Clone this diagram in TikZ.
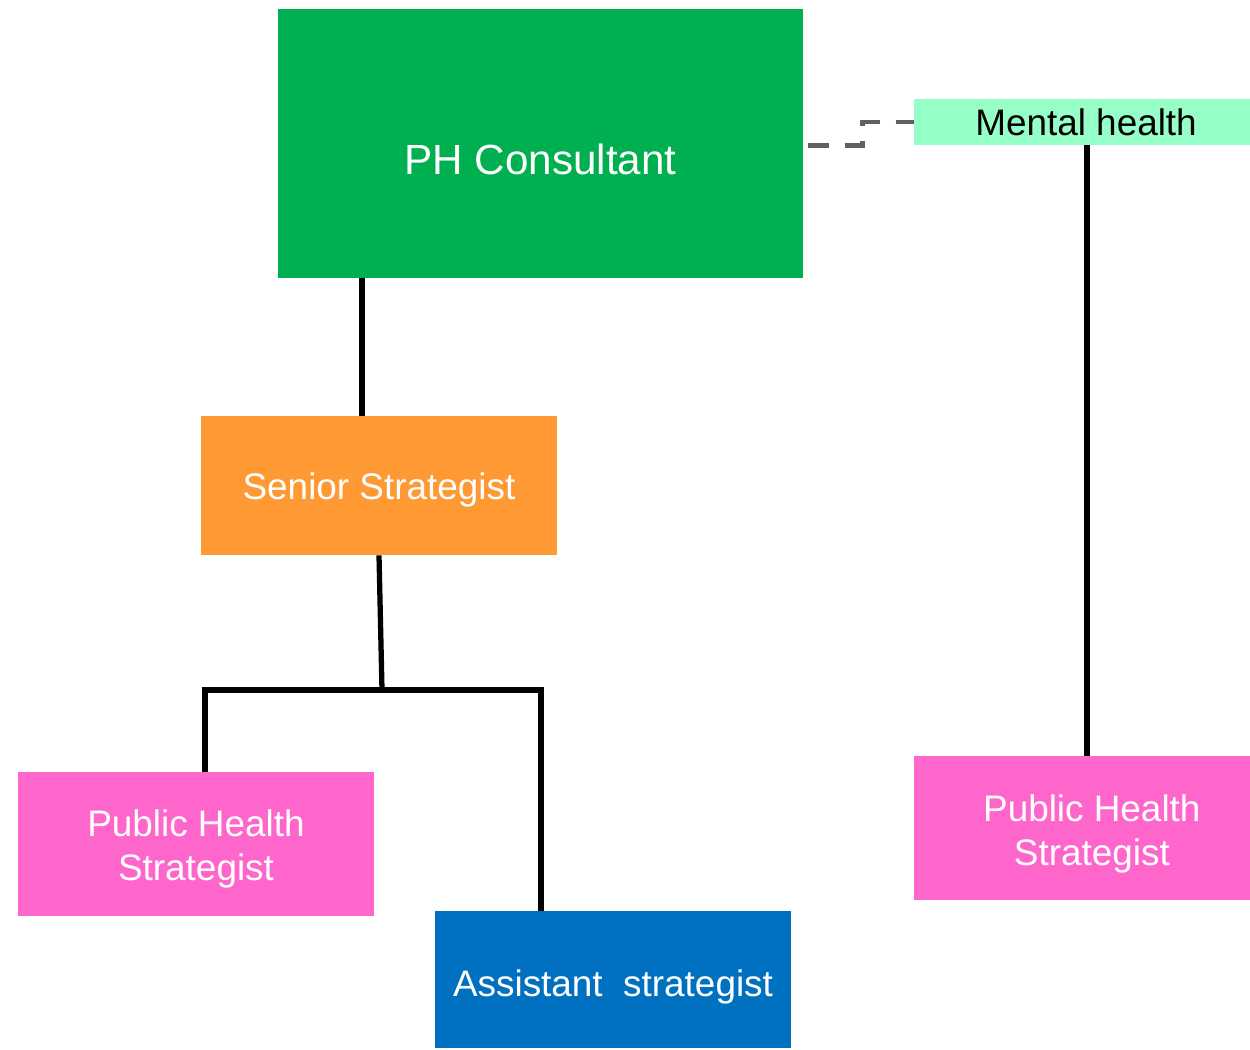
\documentclass[tikz,border=0pt]{standalone}
\usepackage{fontspec}
\setmainfont{Liberation Sans}
\usetikzlibrary{calc}

\definecolor{consgreen}{RGB}{0,176,80}
\definecolor{mhgreen}{RGB}{150,255,200}
\definecolor{seniororange}{RGB}{255,153,51}
\definecolor{phspink}{RGB}{255,102,204}
\definecolor{assistblue}{RGB}{0,112,192}
\definecolor{dashgray}{RGB}{96,96,96}

\begin{document}
\begin{tikzpicture}[x=0.02cm, y=-0.02cm,
    box/.style={inner sep=0pt},
    role/.style={inner sep=0pt, align=center, font=\fontsize{21}{25.5}\selectfont, text=white},
    link/.style={line width=3pt, black},
    dotted link/.style={line width=2.8pt, dashgray, dash pattern=on 12pt off 9pt}]
      \useasboundingbox (0,0) rectangle (1250,1049);

      \node[box, fill=consgreen, minimum width=10.5cm, minimum height=5.38cm,
        label={[role, font=\fontsize{24}{28}\selectfont, yshift=-9pt]center:PH Consultant}] (cons) at (540.5,143.5) {};
      \node[box, fill=mhgreen, minimum width=6.72cm, minimum height=0.92cm,
        label={[role, text=black, xshift=2.3pt]center:Mental health}] (mental) at (1082,122) {};
      \node[box, fill=seniororange, minimum width=7.12cm, minimum height=2.78cm,
        label={[role, yshift=-2.8pt]center:Senior Strategist}] (senior) at (379,485.5) {};
      \node[box, fill=phspink, minimum width=7.12cm, minimum height=2.88cm,
        label={[role, yshift=-2.8pt]center:{Public Health\\Strategist}}] (phsL) at (196,844) {};
      \node[box, fill=assistblue, minimum width=7.12cm, minimum height=2.74cm,
        label={[role, yshift=-4.5pt]center:{Assistant\ \ strategist}}] (assist) at (613,979.5) {};
      \node[box, fill=phspink, minimum width=6.72cm, minimum height=2.88cm,
        label={[role, xshift=5.6pt, yshift=-3.4pt]center:{Public Health\\Strategist}}] (phsR) at (1082,828) {};

      \coordinate (split) at (382,690);
      \coordinate (jl) at (205,690);
      \coordinate (jr) at (541,690);

      \draw[link] (cons.south -| 362,0) -- (senior.north -| 362,0);
      \draw[link] (senior.south) -- (split);
      \draw[link] (phsL.north -| jl) -- (jl) -- (jr) -- (assist.north -| jr);
      \draw[link] ([xshift=0.1cm]mental.south) -- ([xshift=0.1cm]phsR.north);
      \draw[dotted link] ([xshift=2.8pt]cons.east |- mental.south) -- ++(54,0) |- (mental.west);
    \end{tikzpicture}
\end{document}
